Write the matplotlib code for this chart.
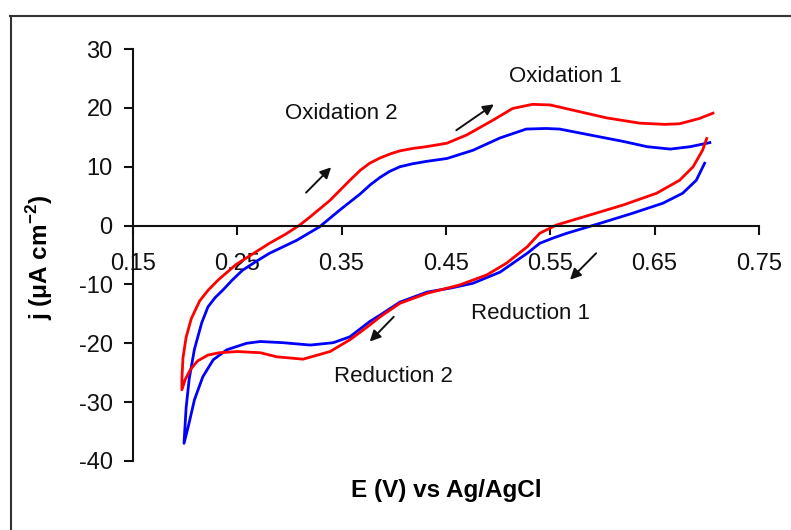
import matplotlib
matplotlib.use("Agg")
import matplotlib.pyplot as plt
from matplotlib.lines import Line2D

plt.rcParams['font.family'] = ['Liberation Sans', 'DejaVu Sans']
plt.rcParams['mathtext.fontset'] = 'custom'
plt.rcParams['mathtext.rm'] = 'Liberation Sans'
plt.rcParams['mathtext.bf'] = 'Liberation Sans:bold'
plt.rcParams['axes.unicode_minus'] = False

# red curve: cathodic branch (0.70 -> 0.20) then anodic branch (0.20 -> 0.70)
red_E = [0.700, 0.696, 0.687, 0.674, 0.652, 0.620, 0.588, 0.556, 0.540, 0.528,
         0.508, 0.489, 0.463, 0.432, 0.406, 0.387, 0.377, 0.368, 0.358, 0.339,
         0.313, 0.288, 0.272, 0.250, 0.233, 0.222, 0.212, 0.205, 0.200, 0.197,
         0.197, 0.198, 0.201, 0.206, 0.214, 0.222, 0.232, 0.249, 0.265, 0.281,
         0.296, 0.310, 0.320, 0.339, 0.358, 0.368, 0.377, 0.387, 0.397, 0.406,
         0.418, 0.431, 0.451, 0.470, 0.495, 0.514, 0.533, 0.550, 0.572, 0.604,
         0.636, 0.660, 0.674, 0.693, 0.706]
red_j = [14.8, 12.8, 10.0, 7.7, 5.5, 3.5, 1.8, 0.1, -1.3, -3.6,
         -6.4, -8.4, -10.1, -11.5, -13.2, -15.5, -16.9, -18.1, -19.4, -21.4,
         -22.7, -22.3, -21.6, -21.4, -21.6, -22.0, -23.0, -24.5, -26.2, -27.9,
         -26.0, -22.5, -19.0, -15.8, -12.8, -11.0, -9.2, -6.6, -4.8, -3.0,
         -1.5, 0.1, 1.5, 4.3, 7.7, 9.4, 10.6, 11.5, 12.2, 12.7,
         13.1, 13.4, 14.0, 15.4, 17.9, 19.9, 20.6, 20.5, 19.6, 18.3,
         17.4, 17.2, 17.3, 18.2, 19.1]

blue_E = [0.698, 0.690, 0.677, 0.658, 0.629, 0.598, 0.566, 0.553, 0.540, 0.528,
          0.502, 0.476, 0.455, 0.432, 0.406, 0.387, 0.377, 0.358, 0.342, 0.320,
          0.294, 0.272, 0.259, 0.240, 0.227, 0.217, 0.209, 0.203, 0.199,
          0.201, 0.204, 0.209, 0.216, 0.222, 0.229, 0.236, 0.245, 0.255, 0.268,
          0.281, 0.307, 0.329, 0.348, 0.368, 0.378, 0.387, 0.396, 0.406, 0.418,
          0.431, 0.451, 0.476, 0.502, 0.527, 0.546, 0.559, 0.588, 0.620, 0.643,
          0.665, 0.684, 0.703]
blue_j = [10.6, 7.7, 5.5, 3.8, 2.1, 0.4, -1.3, -2.1, -3.0, -4.7,
          -7.9, -9.8, -10.6, -11.3, -13.0, -15.2, -16.3, -18.9, -19.9, -20.3,
          -19.9, -19.7, -20.0, -21.1, -22.8, -25.7, -29.6, -34.2, -37.0,
          -31.0, -26.0, -21.0, -16.5, -13.8, -12.2, -11.0, -9.3, -7.6, -6.1,
          -4.7, -2.5, -0.2, 2.6, 5.4, 7.0, 8.2, 9.2, 10.0, 10.5,
          10.9, 11.4, 12.8, 14.9, 16.4, 16.5, 16.4, 15.4, 14.3, 13.4,
          13.0, 13.4, 14.1]

xticks = [0.15, 0.25, 0.35, 0.45, 0.55, 0.65, 0.75]
yticks = [-40, -30, -20, -10, 0, 10, 20, 30]

# annotations: label, label position, arrow tail, arrow head
labels = ['Oxidation 2', 'Oxidation 1', 'Reduction 1', 'Reduction 2']
label_pos = [(0.350, 19.1), (0.565, 25.4), (0.531, -14.9), (0.400, -25.7)]
arrow_tail = [(0.316, 5.6), (0.460, 16.2), (0.594, -4.7), (0.400, -15.5)]
arrow_head = [(0.340, 9.9), (0.496, 20.6), (0.569, -9.2), (0.377, -19.7)]

fig = plt.figure(figsize=(7.91, 5.30), dpi=100)
ax = fig.add_axes([0.168, 0.1302, 0.7914, 0.7773])

ax.plot(blue_E, blue_j, color='#0000FF', lw=2.0)
ax.plot(red_E, red_j, color='#FF0000', lw=2.0)

for lab, pos, t, h in zip(labels, label_pos, arrow_tail, arrow_head):
    ax.text(pos[0], pos[1], lab, fontsize=16, ha='center', va='center', color='#111111')
    ax.annotate('', xy=h, xytext=t,
                arrowprops=dict(arrowstyle='-|>', color='#111111', lw=1.4,
                                mutation_scale=16, shrinkA=0, shrinkB=0))

ax.set_xlim(0.15, 0.75)
ax.set_ylim(-40, 30)
ax.set_xticks(xticks)
ax.set_xticklabels([f'{v:.2f}' for v in xticks])
ax.set_yticks(yticks)

ax.spines['top'].set_visible(False)
ax.spines['right'].set_visible(False)
ax.spines['bottom'].set_position(('data', 0))
for s in ['left', 'bottom']:
    ax.spines[s].set_linewidth(1.5)
    ax.spines[s].set_color('#111111')
ax.tick_params(axis='both', labelsize=17, width=1.5, length=6.5, colors='#111111')
ax.tick_params(axis='x', pad=13)
ax.tick_params(axis='y', pad=8)

fig.text(0.564, 0.075, 'E (V) vs Ag/AgCl', fontsize=17.5, fontweight='bold',
         ha='center', va='center')
fig.text(0.050, 0.515, r'j (μA cm$^{\mathbf{-2}}$)', fontsize=17.5, fontweight='bold',
         rotation=90, ha='center', va='center')

# outer frame (cut off at right and bottom)
fig.add_artist(Line2D([10 / 791, 1.0], [1 - 16 / 530, 1 - 16 / 530],
                      transform=fig.transFigure, color='#333333', lw=1.5))
fig.add_artist(Line2D([11 / 791, 11 / 791], [0.0, 1 - 16 / 530],
                      transform=fig.transFigure, color='#333333', lw=1.5))

fig.savefig('out.png', dpi=100)
